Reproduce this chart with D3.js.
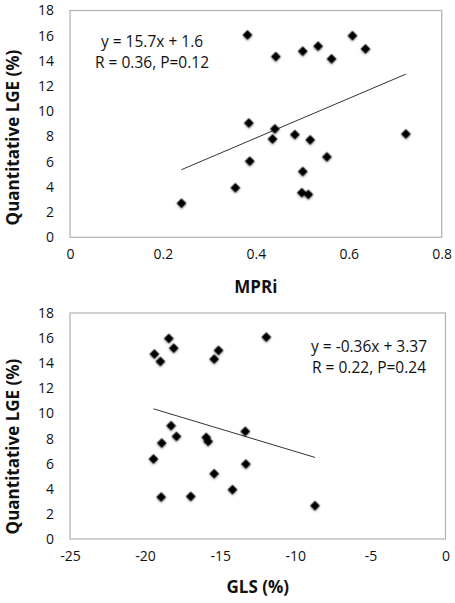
<!DOCTYPE html>
<html><head><meta charset="utf-8">
<script src="https://cdn.jsdelivr.net/npm/d3@7"></script>
<style>
html,body{margin:0;padding:0;background:#fff;}
svg{display:block;font-family:"Open Sans",sans-serif;}
</style></head>
<body>
<svg id="chart" width="455" height="603"></svg>
<script>
// Panel A: MPRi vs Quantitative LGE
const mpri = [0.240,0.356,0.382,0.385,0.387,0.436,0.441,0.443,0.484,0.501,0.501,0.499,0.513,0.517,0.534,0.553,0.563,0.608,0.636,0.723];
const lgeA = [2.7,3.93,16.06,9.07,6.04,7.8,8.6,14.34,8.15,14.77,5.22,3.54,3.4,7.73,15.17,6.38,14.16,16.0,14.95,8.2];
// Panel B: GLS vs Quantitative LGE
const gls  = [-19.38,-18.98,-18.42,-18.09,-18.27,-17.91,-18.89,-19.44,-18.93,-16.96,-15.93,-15.8,-15.4,-15.11,-15.4,-14.18,-13.33,-13.29,-11.93,-8.69];
const lgeB = [14.73,14.14,15.97,15.2,9.02,8.17,7.64,6.37,3.34,3.39,8.09,7.77,14.33,15.02,5.2,3.93,8.57,5.97,16.08,2.65];
// Regression fits
const fitA = {slope:15.7, intercept:1.6};
const fitB = {slope:-0.36, intercept:3.37};
const textA = ["y = 15.7x + 1.6","R = 0.36, P=0.12"];
const textB = ["y = -0.36x + 3.37","R = 0.22, P=0.24"];
const yTicks = [0,2,4,6,8,10,12,14,16,18];
const xTicksA = [0,0.2,0.4,0.6,0.8];
const xTicksB = [-25,-20,-15,-10,-5,0];
const yTitle = "Quantitative LGE (%)";
const xTitleA = "MPRi";
const xTitleB = "GLS (%)";

const svg = d3.select("#chart");
const defs = svg.append("defs");
const f = defs.append("filter").attr("id","sh").attr("x","-50%").attr("y","-50%").attr("width","200%").attr("height","200%");
f.append("feDropShadow").attr("dx",0.8).attr("dy",0.8).attr("stdDeviation",0.8).attr("flood-color","#000").attr("flood-opacity",0.35);

function panel(cfg){
  const g = svg.append("g");
  const x = d3.scaleLinear().domain(cfg.xDomain).range([70, cfg.right]);
  const y = d3.scaleLinear().domain([0,18]).range([cfg.bottom, cfg.top]);
  // plot border
  g.append("rect").attr("x",x.range()[0]).attr("y",cfg.top)
    .attr("width",x.range()[1]-x.range()[0]).attr("height",cfg.bottom-cfg.top)
    .attr("fill","none").attr("stroke","#b0b0b0").attr("stroke-width",1.2);
  // y axis labels
  const ya = d3.axisLeft(y).tickValues(yTicks).tickSize(0).tickPadding(0).tickFormat(d3.format("d"));
  const yg = g.append("g").attr("transform","translate(54,0)").call(ya);
  yg.select(".domain").remove();
  yg.selectAll("text").attr("font-size",14).attr("fill","#111").attr("font-family","Open Sans");
  // x axis labels
  const xa = d3.axisBottom(x).tickValues(cfg.xTicks).tickSize(0).tickPadding(0).tickFormat(d=>String(d));
  const xg = g.append("g").attr("transform",`translate(0,${cfg.bottom+12})`).call(xa);
  xg.select(".domain").remove();
  xg.selectAll("text").attr("font-size",14).attr("fill","#111").attr("font-family","Open Sans");
  // trend line
  const [x0,x1] = d3.extent(cfg.xs);
  g.append("line")
    .attr("x1",x(x0)).attr("y1",y(cfg.fit.slope*x0+cfg.fit.intercept))
    .attr("x2",x(x1)).attr("y2",y(cfg.fit.slope*x1+cfg.fit.intercept))
    .attr("stroke","#333").attr("stroke-width",1);
  // points
  const sym = d3.symbol().type(d3.symbolSquare).size(48);
  g.selectAll("path.pt").data(cfg.xs.map((v,i)=>[v,cfg.ys[i]])).join("path")
    .attr("class","pt")
    .attr("d",sym)
    .attr("transform",d=>`translate(${x(d[0])},${y(d[1])}) rotate(45)`)
    .attr("fill","#000").attr("filter","url(#sh)");
  // annotation
  cfg.text.forEach((t,i)=>{
    g.append("text").attr("x",cfg.textX).attr("y",cfg.textY+i*21)
      .attr("text-anchor","middle").attr("font-size",15.5).attr("fill","#111").text(t);
  });
  // axis titles
  g.append("text").attr("x",(70+cfg.right)/2).attr("y",cfg.xTitleY)
    .attr("text-anchor","middle").attr("font-size",17).attr("font-weight","bold").attr("fill","#111").text(cfg.xTitle);
  g.append("text").attr("transform",`translate(19,${cfg.yTitleMid}) rotate(-90)`)
    .attr("text-anchor","middle").attr("font-size",17).attr("font-weight","bold").attr("fill","#111").text(yTitle);
}

panel({xDomain:[0,0.8], right:441.7, top:10.5, bottom:237.3, xTicks:xTicksA,
  xs:mpri, ys:lgeA, fit:fitA, text:textA, textX:152, textY:47,
  xTitle:xTitleA, xTitleY:293, yTitleMid:137.5});
panel({xDomain:[-25,0], right:445.5, top:313, bottom:539, xTicks:xTicksB,
  xs:gls, ys:lgeB, fit:fitB, text:textB, textX:369, textY:352,
  xTitle:xTitleB, xTitleY:593, yTitleMid:446.5});
</script>
</body></html>
